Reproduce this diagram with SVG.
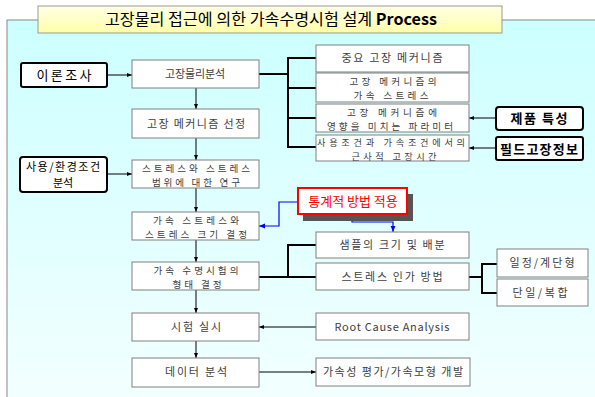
<svg xmlns="http://www.w3.org/2000/svg" width="595" height="397" viewBox="0 0 595 397">
<defs>
<linearGradient id="bg" x1="0" y1="0" x2="0" y2="1"><stop offset="0" stop-color="#CCFFFF"/><stop offset="1" stop-color="#F4FFFF"/></linearGradient>
<linearGradient id="tg" x1="0" y1="0" x2="0" y2="1"><stop offset="0" stop-color="#FFFFE6"/><stop offset="1" stop-color="#FFFFA8"/></linearGradient>
<marker id="ah" viewBox="0 0 10 10" refX="10" refY="5" markerWidth="5" markerHeight="5" orient="auto"><path d="M0,1 L10,5 L0,9 z" fill="#000"/></marker>
<marker id="ahb" viewBox="0 0 10 10" refX="10" refY="5" markerWidth="5" markerHeight="5" orient="auto"><path d="M0,1 L10,5 L0,9 z" fill="#0000FF"/></marker>
<style>
.b{fill:#fff;stroke:#808080;stroke-width:1}
.k{fill:#fff;stroke:#000;stroke-width:2}
.t{font-family:"Noto Sans CJK KR","Liberation Sans",sans-serif;font-size:11px;fill:#404040;text-anchor:middle}
.t2{font-family:"Noto Sans CJK KR","Liberation Sans",sans-serif;font-size:9.6px;fill:#404040;text-anchor:middle}
.kt{font-family:"Noto Sans CJK KR","Liberation Sans",sans-serif;font-size:13px;fill:#000;text-anchor:middle}
.c{fill:none;stroke:#000;stroke-width:1}
.br{fill:none;stroke:#000;stroke-width:2}
.bl{fill:none;stroke:#0000FF;stroke-width:1.2}
</style>
</defs>
<rect x="7" y="20" width="600" height="390" fill="url(#bg)" stroke="#888"/>
<g id="title">
<rect x="38" y="6" width="464" height="27" fill="url(#tg)" stroke="#999"/>
<text x="271" y="25" font-family="Noto Sans CJK KR, Liberation Sans, sans-serif" font-size="16" fill="#000" text-anchor="middle" textLength="332" lengthAdjust="spacingAndGlyphs">고장물리 접근에 의한 가속수명시험 설계 <tspan font-weight="bold">Process</tspan></text>
</g>
<g id="connectors">
<line class="c" x1="107" y1="75" x2="132" y2="75" marker-end="url(#ah)"/>
<line class="c" x1="196" y1="88" x2="196" y2="109" marker-end="url(#ah)"/>
<line class="c" x1="196" y1="138" x2="196" y2="160" marker-end="url(#ah)"/>
<line class="c" x1="107" y1="174" x2="132" y2="174" marker-end="url(#ah)"/>
<line class="c" x1="196" y1="188" x2="196" y2="212" marker-end="url(#ah)"/>
<line class="c" x1="196" y1="240" x2="196" y2="262" marker-end="url(#ah)"/>
<line class="c" x1="196" y1="290" x2="196" y2="313" marker-end="url(#ah)"/>
<line class="c" x1="196" y1="341" x2="196" y2="358" marker-end="url(#ah)"/>
<line class="c" x1="316" y1="327" x2="259" y2="327" marker-end="url(#ah)"/>
<line class="c" x1="259" y1="372" x2="316" y2="372" marker-end="url(#ah)"/>
<line class="c" x1="496" y1="118" x2="469" y2="118" marker-end="url(#ah)"/>
<line class="c" x1="496" y1="148" x2="469" y2="148" marker-end="url(#ah)"/>
<path class="br" d="M259,74 H288 M316,58 H288 V147 H316 M288,88 H316 M288,118 H316"/>
<path class="br" d="M259,277 H288 M316,245 H288 V277 H316"/>
<path class="br" d="M469,277 H482 M497,264 H482 V293 H497"/>
<path class="bl" d="M298,202 H279 V226 H259" marker-end="url(#ahb)"/>
<path class="bl" d="M352,214 V222 H393 V232" marker-end="url(#ahb)"/>
</g>
<g id="n-theory"><rect class="k" x="21" y="63" width="86" height="24" rx="2"/><text class="kt" x="64" y="80" font-size="14" textLength="55">이론조사</text></g>
<g id="n-physics"><rect class="b" x="132" y="60" width="127" height="28"/><text class="t" x="195" y="78" textLength="60">고장물리분석</text></g>
<g id="n-select"><rect class="b" x="132" y="109" width="127" height="29"/><text class="t" x="196" y="128" textLength="98">고장 메커니즘 선정</text></g>
<g id="n-env"><rect class="k" x="20" y="157" width="87" height="35" rx="3"/><text class="kt" style="font-size:11px"><tspan x="63" y="171" textLength="74">사용/환경조건</tspan><tspan x="63" y="187">분석</tspan></text></g>
<g id="n-range"><rect class="b" x="132" y="160" width="127" height="28"/><text class="t2"><tspan x="196" y="171.5" textLength="108">스트레스와 스트레스</tspan><tspan x="196" y="185.5" textLength="88">범위에 대한 연구</tspan></text></g>
<g id="n-accel"><rect class="b" x="132" y="212" width="127" height="28"/><text class="t2"><tspan x="196" y="223.5" textLength="86">가속 스트레스와</tspan><tspan x="196" y="237.5" textLength="102">스트레스 크기 결정</tspan></text></g>
<g id="n-form"><rect class="b" x="132" y="262" width="127" height="28"/><text class="t2"><tspan x="196" y="273.5" textLength="85">가속 수명시험의</tspan><tspan x="197" y="287.5" textLength="49">형태 결정</tspan></text></g>
<g id="n-test"><rect class="b" x="132" y="313" width="127" height="28"/><text class="t" x="196" y="331" textLength="50">시험 실시</text></g>
<g id="n-data"><rect class="b" x="132" y="358" width="127" height="29"/><text class="t" x="196" y="376" textLength="62">데이터 분석</text></g>
<g id="n-mech"><rect class="b" x="316" y="45" width="153" height="27"/><text class="t" x="392" y="62" textLength="101">중요 고장 메커니즘</text></g>
<g id="n-mechstress"><rect class="b" x="316" y="73" width="153" height="29"/><text class="t2"><tspan x="393" y="85" textLength="87">고장 메커니즘의</tspan><tspan x="391" y="99" textLength="75">가속 스트레스</tspan></text></g>
<g id="n-param"><rect class="b" x="316" y="104" width="153" height="28"/><text class="t2"><tspan x="392" y="115.5" textLength="90">고장 메커니즘에</tspan><tspan x="390" y="129.5" textLength="126">영향을 미치는 파라미터</tspan></text></g>
<g id="n-time"><rect class="b" x="316" y="135" width="153" height="26"/><text class="t2" style="font-size:9.2px"><tspan x="391" y="146" textLength="148">사용조건과 가속조건에서의</tspan><tspan x="394" y="159.5" textLength="85">근사적 고장시간</tspan></text></g>
<g id="n-product"><rect class="k" x="496" y="107" width="87" height="23" rx="3"/><text class="kt" x="539" y="123" font-weight="bold" textLength="57">제품 특성</text></g>
<g id="n-field"><rect class="k" x="496" y="137" width="87" height="23" rx="2"/><text class="kt" x="539" y="154" font-size="14" font-weight="bold" textLength="78">필드고장정보</text></g>
<g id="n-stat"><rect x="303" y="194" width="110" height="27" fill="#555"/><rect x="298" y="188" width="109" height="26" fill="#fff" stroke="#FF0000" stroke-width="2"/><text class="t" x="353" y="206" style="fill:#FF0000;font-size:13px">통계적 방법 적용</text></g>
<g id="n-sample"><rect class="b" x="316" y="232" width="153" height="26"/><text class="t" x="392" y="249" textLength="105">샘플의 크기 및 배분</text></g>
<g id="n-apply"><rect class="b" x="316" y="263" width="153" height="27"/><text class="t" x="392" y="281" textLength="101">스트레스 인가 방법</text></g>
<g id="n-const"><rect class="b" x="497" y="249" width="91" height="28"/><text class="t" x="542" y="267" textLength="65">일정/계단형</text></g>
<g id="n-single"><rect class="b" x="497" y="279" width="91" height="27"/><text class="t" x="540" y="297" textLength="55">단일/복합</text></g>
<g id="n-rca"><rect class="b" x="316" y="313" width="153" height="27"/><text class="t" x="392" y="331" textLength="115">Root Cause Analysis</text></g>
<g id="n-eval"><rect class="b" x="316" y="358" width="154" height="28"/><text class="t" x="393" y="376" textLength="140">가속성 평가/가속모형 개발</text></g>
</svg>
